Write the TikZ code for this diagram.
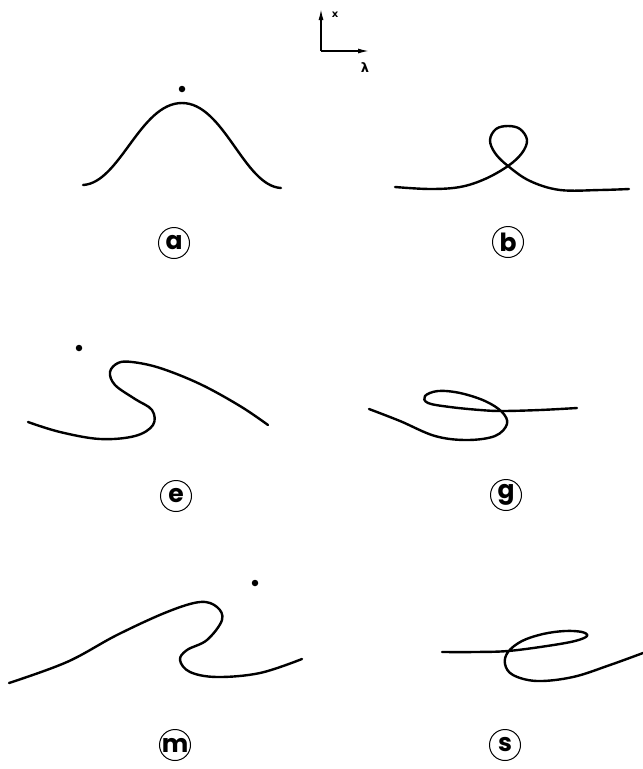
\documentclass[tikz,border=0pt]{standalone}
\usepackage{fontspec}
\newfontfamily\tagfont{Poppins}
\newfontfamily\axisfont{DejaVu Sans}
\usetikzlibrary{arrows.meta}
\begin{document}
\begin{tikzpicture}[x=1pt, y=-1pt,
    curve/.style={line width=2.4pt, line cap=round, line join=round},
    tag/.style={draw, circle, line width=1pt, minimum size=31pt, inner sep=0pt,
        font=\tagfont\bfseries\fontsize{25}{25}\selectfont},
    spot/.style={fill, circle, inner sep=0pt, minimum size=6.5pt},
    axis/.style={line width=1.4pt, -{Latex[length=11pt, width=5pt]}}]
    \useasboundingbox (0,0) rectangle (643,769);

    %axis
    \coordinate (o) at (321,51);
    \coordinate (xtip) at (321,9);
    \coordinate (ltip) at (369,51);
    \draw[axis] (o) -- (xtip);
    \draw[axis] (o) -- (ltip);
    \node[font=\axisfont\bfseries\fontsize{10}{10}\selectfont] (xlab) at (335,15) {x};
    \node[font=\axisfont\bfseries\fontsize{13}{13}\selectfont] (llab) at (365,68) {λ};

    %curve a
    \draw[curve] (83,185) .. controls (120,183) and (140,103) .. (182,103)
        .. controls (224,103) and (244,186) .. (281,188);
    \node[spot] (dota) at (182,89) {};

    %curve b
    \draw[curve] plot[smooth, tension=0.6] coordinates {(395,187) (430,189) (460,187)
        (485,179) (508,166) (522,153) (527,140) (520,129) (508,126) (496,129)
        (490,140) (495,153) (508,166) (530,181) (560,190) (600,190) (629,189)};

    %curve e
    \draw[curve] plot[smooth, tension=0.6] coordinates {(28,422) (60,432) (100,439)
        (135,436) (153,425) (152,410) (135,399) (115,385) (110,372) (118,363)
        (132,362) (160,368) (200,384) (240,406) (268,425)};
    \node[spot] (dote) at (79,348) {};

    %curve g
    \draw[curve] plot[smooth, tension=0.6] coordinates {(369,409) (400,421) (435,436)
        (467,440) (495,436) (507,424) (502,412) (485,401) (460,393) (438,391)
        (425,396) (428,403) (450,407) (480,410) (502,411) (540,410) (577,408)};

    %curve m
    \draw[curve] plot[smooth, tension=0.6] coordinates {(9,683) (67,662) (117,635)
        (167,612) (200,602) (217,607) (222,620) (207,640) (187,650) (180,660)
        (190,672) (217,677) (260,673) (302,659)};
    \node[spot] (dotm) at (255,583) {};

    %curve s
    \draw[curve] plot[smooth, tension=0.6] coordinates {(442,652) (475,652) (508,651)
        (547,646) (575,641) (587,636) (582,632) (565,631) (543,634) (522,641)
        (508,652) (505,664) (513,675) (537,681) (573,677) (610,665) (643,653)};

    %labels
    \node[tag] (ta) at (174,243) {a};
    \node[tag] (tb) at (508,242) {b};
    \node[tag] (te) at (176,496) {e};
    \node[tag] (tg) at (506,495) {g};
    \node[tag] (tm) at (175,745) {m};
    \node[tag] (ts) at (505,745) {s};
\end{tikzpicture}
\end{document}
